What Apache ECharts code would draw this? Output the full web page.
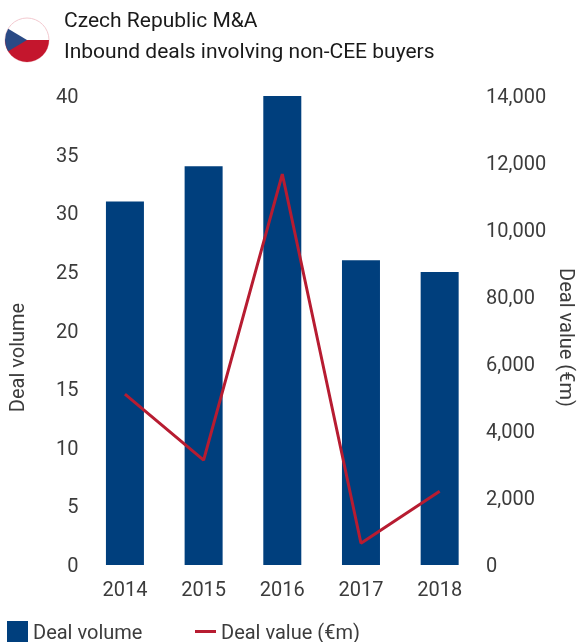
<!DOCTYPE html>
<html>
<head>
<meta charset="utf-8">
<script src="https://cdn.jsdelivr.net/npm/echarts@6/dist/echarts.min.js"></script>
<style>
html, body { margin: 0; padding: 0; background: #fff; }
#chart { width: 577px; height: 642px; }
</style>
</head>
<body>
<div id="chart"></div>
<script>
const years = ['2014', '2015', '2016', '2017', '2018']
const dealVolume = [31, 34, 40, 26, 25]
const dealValue = [5100, 3130, 11670, 650, 2200]
// the source chart really prints 80,00 on the right axis
const rightTicks = ['0', '2,000', '4,000', '6,000', '80,00', '10,000', '12,000', '14,000']

const font = 'Roboto'
const blue = '#003f7d'
const red = '#b71c31'
const textColor = '#3c3c3c'

// legend text sits a little low against its key in the original
const legendRich = { t: { fontFamily: font, fontSize: 20, color: textColor, padding: [5, 0, 0, 0] } }

echarts.init(document.getElementById('chart')).setOption({
    animation: false,
    textStyle: { fontFamily: font },
    title: [
        { text: 'Czech Republic M&A', left: 64, top: 10, padding: 0, textStyle: { fontFamily: font, fontSize: 21, fontWeight: 'normal', color: '#1a1a1a', lineHeight: 24 } },
        { text: 'Inbound deals involving non-CEE buyers', left: 64, top: 41, padding: 0, textStyle: { fontFamily: font, fontSize: 21, fontWeight: 'normal', color: '#1a1a1a', lineHeight: 24 } }
    ],
    legend: [
        {
            data: [{ name: 'Deal volume', icon: 'rect' }],
            left: 7, top: 621, padding: 0, itemWidth: 21, itemHeight: 21, itemGap: 0,
            formatter: '{t|{name}}',
            textStyle: { rich: legendRich }
        },
        {
            data: [{ name: 'Deal value (€m)', icon: 'rect', itemStyle: { color: red } }],
            left: 195, top: 624, padding: 0, itemWidth: 21, itemHeight: 3, itemGap: 0,
            formatter: '{t|{name}}',
            textStyle: { rich: legendRich }
        }
    ],
    grid: { left: 85.6, right: 98, top: 96, bottom: 77, outerBoundsMode: 'none' },
    xAxis: {
        type: 'category',
        data: years,
        axisLine: { show: false },
        axisTick: { show: false },
        axisLabel: { fontFamily: font, fontSize: 20, color: textColor, margin: 16 }
    },
    yAxis: [
        {
            type: 'value', min: 0, max: 40, interval: 5,
            splitLine: { show: false },
            axisLine: { show: false },
            axisTick: { show: false },
            axisLabel: { fontFamily: font, fontSize: 20, color: textColor, margin: 7, verticalAlign: 'top', lineHeight: 4 },
            name: 'Deal volume',
            nameLocation: 'middle',
            nameGap: 57,
            nameTextStyle: { fontFamily: font, fontSize: 20, color: textColor, padding: [0, 54, 0, 0] }
        },
        {
            type: 'value', min: 0, max: 14000, interval: 2000,
            splitLine: { show: false },
            axisLine: { show: false },
            axisTick: { show: false },
            axisLabel: {
                fontFamily: font, fontSize: 20, color: textColor, margin: 7, verticalAlign: 'top', lineHeight: 4,
                formatter: function (v) { return rightTicks[v / 2000] }
            },
            name: 'Deal value (€m)',
            nameLocation: 'middle',
            nameGap: 76,
            nameRotate: -90,
            nameMoveOverlap: false,
            nameTextStyle: { fontFamily: font, fontSize: 20, color: textColor, padding: [0, 0, 0, 14] }
        }
    ],
    series: [
        { name: 'Deal volume', type: 'bar', data: dealVolume, barWidth: 38, itemStyle: { color: blue } },
        {
            name: 'Deal value (€m)', type: 'line', yAxisIndex: 1, data: dealValue,
            symbol: 'none', lineStyle: { color: red, width: 3 }, itemStyle: { color: red }
        }
    ],
    graphic: [
        { type: 'circle', shape: { cx: 27, cy: 40, r: 22 }, style: { fill: '#fff', stroke: '#f2c9cf', lineWidth: 1 } },
        { type: 'sector', shape: { cx: 27, cy: 40, r: 22, startAngle: 0, endAngle: Math.PI }, style: { fill: '#c4162d' } },
        { type: 'sector', shape: { cx: 27, cy: 40, r: 22, startAngle: 149 * Math.PI / 180, endAngle: 211 * Math.PI / 180 }, style: { fill: '#2a4a85' } }
    ]
})
</script>
</body>
</html>
